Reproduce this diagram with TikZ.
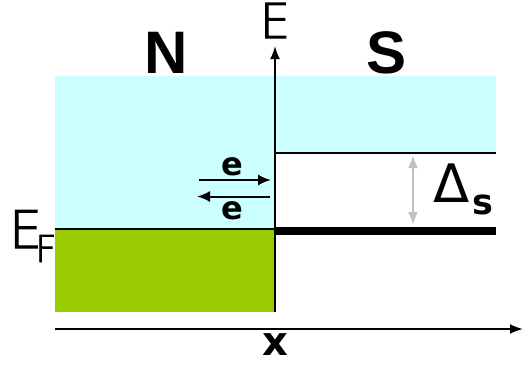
\documentclass[tikz,border=0pt]{standalone}
\usepackage{fontspec}
\setmainfont{DejaVu Sans}
\newfontfamily\lightfont{DejaVu Sans ExtraLight}[FakeBold=2.2]
\newfontfamily\headfont{Liberation Sans}
\usetikzlibrary{arrows.meta}
\definecolor{bandcyan}{HTML}{CCFFFF}
\definecolor{fillgreen}{HTML}{99CC00}
\definecolor{gapgray}{HTML}{C0C0C0}
\begin{document}
\begin{tikzpicture}[x=1pt,y=-1pt,
  lbl/.style={inner sep=0pt,anchor=base},
  axis/.style={line width=2pt,-{Latex[length=13pt,width=10pt]}},
  earrow/.style={line width=2pt,-{Latex[length=13pt,width=11pt]}},
  gaparrow/.style={gapgray,line width=2.5pt,{Latex[length=13pt,width=10pt]}-{Latex[length=13pt,width=10pt]}}]
\useasboundingbox (0,0) rectangle (523,365);
% bands
\fill[bandcyan] (54.5,76) rectangle (275,229);
\fill[bandcyan] (275,76) rectangle (496,152.5);
\fill[fillgreen] (54.5,229) rectangle (275,312);
% coordinates
\coordinate (efl) at (54.5,229);
\coordinate (efr) at (275,229);
\coordinate (gtl) at (275,152.5);
\coordinate (gtr) at (496,152.5);
\coordinate (gbl) at (275,230.5);
\coordinate (gbr) at (496,230.5);
\coordinate (yb) at (275,312);
\coordinate (yt) at (275,46);
\coordinate (xl) at (54.5,329);
\coordinate (xr) at (523,329);
% lines
\draw[line width=2pt] (efl) -- (efr);
\draw[line width=2pt] (gtl) -- (gtr);
\draw[line width=8pt] (gbl) -- (gbr);
\draw[axis] (yb) -- (yt);
\draw[axis] (xl) -- (xr);
% labels
\node[lbl,font={\lightfont\fontsize{48}{48}\selectfont}] (E) at (275,38) {E};
\node[lbl,font={\headfont\bfseries\fontsize{60}{60}\selectfont}] (N) at (166,73) {N};
\node[lbl,font={\headfont\bfseries\fontsize{60}{60}\selectfont}] (S) at (387,73) {S};
\node[lbl,font={\bfseries\fontsize{40}{40}\selectfont}] (X) at (275,355) {x};
\node[lbl,font={\bfseries\fontsize{32}{32}\selectfont}] (e1) at (232,175) {e};
\node[lbl,font={\bfseries\fontsize{32}{32}\selectfont}] (e2) at (232,219) {e};
\node[lbl,anchor=base west,font={\lightfont\fontsize{52}{52}\selectfont}] (EF) at (9,248) {E};
\node[lbl,anchor=base west,font={\lightfont\fontsize{37}{37}\selectfont}] (F) at (35,262) {F};
\node[lbl,font={\fontsize{53}{53}\selectfont}] (D) at (452,202) {Δ};
\node[lbl,anchor=base west,font={\bfseries\fontsize{35}{35}\selectfont}] (s) at (472,214) {s};
% e arrows
\coordinate (a1l) at (199,180);
\coordinate (a1r) at (271,180);
\coordinate (a2l) at (197,196.5);
\coordinate (a2r) at (270,196.5);
\draw[earrow] (a1l) -- (a1r);
\draw[earrow] (a2r) -- (a2l);
% gap arrow
\coordinate (gt) at (413,155);
\coordinate (gb) at (413,225);
\draw[gaparrow] (gt) -- (gb);
\end{tikzpicture}
\end{document}
